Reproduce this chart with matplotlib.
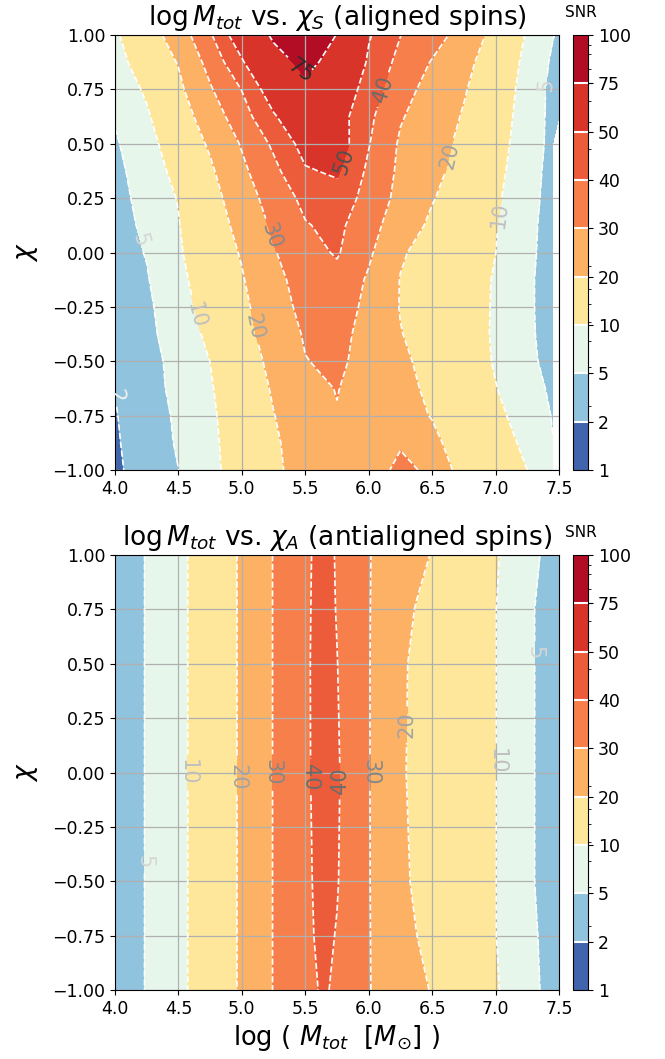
import numpy as np
import matplotlib
matplotlib.use("Agg")
import matplotlib.pyplot as plt
from matplotlib.colors import LogNorm

# ---------------- data ----------------
levels = [1, 2, 5, 10, 20, 30, 40, 50, 75, 100]
line_levels = [2, 5, 10, 20, 30, 40, 50, 75]
label_grays = ['#f0f0f0', '#d6d6d6', '#c0c0c0', '#a3a3a3', '#878787', '#6b6b6b', '#4f4f4f', '#2b2b2b']
cbar_minor = [3.0, 5.65, 8.35, 10.7, 14.3, 17.4, 22.3, 46.5, 55, 66, 82.5, 90, 94.7]
nan = np.nan

# aligned spins (chi_S): SNR sampled on (log M_tot, chi) grid, rows = chi
x_top = [4.0, 4.25, 4.5, 4.75, 5.0, 5.25, 5.5, 5.75, 6.0, 6.25, 6.5, 6.75, 7.0, 7.25, 7.45, 7.5]
chi_top = [-1.0, -0.875, -0.75, -0.625, -0.5, -0.375, -0.25, -0.125, 0.0,
           0.125, 0.25, 0.375, 0.5, 0.625, 0.75, 0.875, 1.0]
snr_top = [
    [1.5, 3.3, 4.98, 8.4, 13.0, 18.6, 23.0, 26.0, 25.0, 32.5, 28.0, 15.5, 12.8, 10.0, 6.5, nan],
    [1.7, 3.4, 5.3, 8.6, 13.4, 19.1, 23.0, 27.0, 25.0, 29.0, 21.5, 16.8, 12.7, 8.7, 5.1, nan],
    [1.85, 3.5, 5.5, 8.9, 14.0, 19.8, 24.2, 29.6, 25.0, 22.4, 19.7, 15.5, 11.3, 7.6, 4.8, nan],
    [2.05, 3.7, 5.9, 9.4, 14.9, 20.8, 27.4, 30.3, 26.5, 22.4, 18.4, 14.3, 10.2, 6.7, 4.3, nan],
    [2.2, 3.6, 6.3, 10.05, 15.8, 22.1, 29.7, 31.8, 26.6, 21.6, 17.3, 13.3, 9.5, 6.1, 3.5, nan],
    [2.6, 4.0, 7.0, 11.2, 17.0, 23.9, 30.9, 32.9, 26.8, 20.3, 16.5, 12.9, 9.3, 5.7, 3.5, nan],
    [2.9, 4.2, 7.7, 12.4, 18.0, 25.5, 32.8, 35.0, 27.6, 19.6, 16.2, 12.8, 9.4, 5.6, 3.5, nan],
    [3.1, 4.7, 8.4, 13.5, 19.3, 27.3, 33.9, 36.9, 28.8, 19.7, 16.4, 13.0, 9.5, 5.6, 3.5, nan],
    [3.3, 5.2, 9.2, 14.7, 20.7, 29.3, 36.2, 41.0, 31.5, 20.9, 16.8, 13.4, 10.05, 5.8, 3.6, nan],
    [3.4, 5.8, 9.7, 15.6, 22.6, 31.6, 39.4, 42.4, 33.6, 24.7, 18.4, 14.4, 10.3, 5.9, 3.7, nan],
    [3.5, 6.5, 10.3, 16.7, 25.0, 34.3, 42.4, 46.0, 36.4, 27.1, 20.5, 15.7, 10.9, 6.2, 3.8, nan],
    [3.9, 7.1, 11.7, 18.6, 28.0, 37.4, 49.0, 51.5, 38.1, 28.1, 22.3, 16.9, 11.7, 6.5, 3.9, nan],
    [4.5, 7.9, 13.5, 21.2, 30.8, 41.7, 54.0, 56.0, 40.5, 28.7, 23.4, 18.0, 12.4, 7.0, 4.0, nan],
    [5.4, 9.2, 15.7, 24.5, 35.7, 48.8, 59.9, 54.9, 42.1, 30.8, 24.9, 19.3, 13.2, 7.3, 4.0, 3.7],
    [6.1, 10.9, 18.0, 29.0, 40.3, 56.4, 71.0, 58.8, 45.3, 33.7, 26.5, 20.7, 14.1, 7.6, 4.0, 3.6],
    [7.7, 13.3, 20.5, 33.2, 48.6, 67.4, 80.0, 68.3, 48.3, 37.0, 29.4, 22.5, 15.3, 8.25, 4.4, 4.0],
    [9.0, 15.6, 24.5, 38.8, 57.8, 78.0, 90.0, 74.5, 51.0, 40.2, 33.9, 26.3, 16.9, 9.4, 5.2, 4.5],
]

# antialigned spins (chi_A)
x_bot = [4.0, 4.125, 4.25, 4.375, 4.5, 4.625, 4.75, 4.875, 5.0, 5.125, 5.25, 5.375,
         5.5, 5.625, 5.75, 5.875, 6.0, 6.125, 6.25, 6.375, 6.5, 6.625, 6.75, 6.875,
         7.0, 7.125, 7.25, 7.375, 7.5]
chi_bot = [-1.0, -0.75, -0.5, 0.0, 0.5, 0.75, 1.0]
snr_bot = [
    [3.2, 4.14, 5.14, 6.93, 8.71, 10.92, 14.21, 17.5, 21.1, 25.7, 30.3, 34.1,
     37.0, 40.7, 39.3, 34.7, 30.4, 27.5, 24.8, 22.0, 19.5, 17.3, 15.0, 12.9, 10.5, 8.5, 6.6, 4.6, 3.5],
    [3.2, 4.14, 5.14, 6.93, 8.71, 10.92, 14.21, 17.5, 21.1, 25.7, 30.3, 34.1,
     37.4, 42.2, 39.6, 35.0, 30.4, 26.9, 23.5, 20.1, 18.1, 16.0, 14.0, 12.0, 10.1, 8.0, 6.0, 4.5, 3.3],
    [3.2, 4.14, 5.14, 6.93, 8.71, 10.92, 14.21, 17.5, 21.1, 25.7, 30.3, 34.1,
     37.65, 43.0, 40.5, 35.4, 30.4, 26.0, 21.7, 18.9, 17.1, 15.4, 13.6, 11.8, 10.1, 7.8, 5.7, 4.2, 3.2],
    [3.2, 4.14, 5.14, 6.93, 8.71, 10.92, 14.21, 17.5, 21.1, 25.7, 30.3, 34.1,
     38.1, 43.8, 41.0, 35.6, 30.4, 25.6, 20.8, 18.6, 16.8, 15.1, 13.4, 11.7, 10.1, 7.8, 5.7, 4.2, 3.2],
    [3.2, 4.14, 5.14, 6.93, 8.71, 10.92, 14.21, 17.5, 21.1, 25.7, 30.3, 34.1,
     38.1, 44.1, 40.2, 35.2, 30.4, 25.7, 21.1, 18.7, 16.9, 15.2, 13.5, 11.7, 10.1, 7.8, 5.7, 4.2, 3.2],
    [3.2, 4.14, 5.14, 6.93, 8.71, 10.92, 14.21, 17.5, 21.1, 25.7, 30.3, 34.1,
     37.9, 43.9, 39.6, 35.0, 30.4, 26.6, 22.9, 19.6, 17.7, 15.8, 13.8, 11.9, 10.1, 7.8, 5.7, 4.2, 3.2],
    [3.2, 4.14, 5.14, 6.93, 8.71, 10.92, 14.21, 17.5, 21.1, 25.7, 30.3, 34.1,
     37.65, 43.6, 39.3, 34.8, 30.4, 27.6, 24.9, 22.2, 19.6, 17.4, 15.1, 12.8, 10.5, 8.5, 6.6, 4.6, 3.5],
]

titles = [r'$\log M_{tot}$ vs. $\chi_S$ (aligned spins)',
          r'$\log M_{tot}$ vs. $\chi_A$ (antialigned spins)']

# label anchor points (where clabel puts each inline label)
label_spots = [
    [(4.05, -0.6), (4.22, 0.06), (4.7, -0.28), (5.12, -0.34), (5.2, 0.07),
     (5.75, 0.43), (5.45, 0.83), (6.05, 0.76), (6.6, 0.45), (7.05, 0.17), (7.38, 0.77)],
    [(4.24, -0.41), (4.58, 0.0), (4.97, -0.02), (5.24, 0.0), (5.56, -0.02),
     (5.8, -0.04), (6.03, 0.0), (6.26, 0.22), (7.03, 0.05), (7.28, 0.55)],
]

# ---------------- styling ----------------
lev = np.array(levels, dtype=float)
layers = np.sqrt(lev[:-1] * lev[1:])
fill_colors = plt.get_cmap('RdYlBu_r')(LogNorm(vmin=1, vmax=100)(layers))

fig = plt.figure(figsize=(6.65, 10.59), dpi=100)
W, H = 665.0, 1059.0
ax_boxes = [(115, 35, 559, 470), (115, 555, 559, 990)]
cb_boxes = [(573, 35, 588, 470), (573, 555, 588, 990)]

panels = [(x_top, chi_top, snr_top), (x_bot, chi_bot, snr_bot)]

for i, (xs, cs_, zs) in enumerate(panels):
    l, t, r, b = ax_boxes[i]
    ax = fig.add_axes([l / W, 1 - b / H, (r - l) / W, (b - t) / H])
    X, Y = np.meshgrid(xs, cs_)
    Z = np.array(zs, dtype=float)
    cf = ax.contourf(X, Y, Z, levels=levels, colors=fill_colors)
    cl = ax.contour(X, Y, Z, levels=line_levels, colors='white',
                    linestyles='dashed', linewidths=1.2)
    ax.clabel(cl, fmt='%d', fontsize=15, colors=label_grays, inline=True,
              manual=label_spots[i])
    ax.set_xlim(4.0, 7.5)
    ax.set_ylim(-1.0, 1.0)
    ax.set_xticks(np.arange(4.0, 7.51, 0.5))
    ax.set_yticks(np.arange(-1.0, 1.01, 0.25))
    ax.grid(True, color='#b0b0b0', linewidth=0.9)
    ax.tick_params(labelsize=12.5)
    ax.set_ylabel(r'$\chi$', fontsize=19, labelpad=9)
    ax.set_title(titles[i], fontsize=19, pad=7)
    if i == 1:
        ax.set_xlabel(r'$\log\,(\ M_{tot}\ \ [M_{\odot}]\ )$', fontsize=18.5)

    l, t, r, b = cb_boxes[i]
    cax = fig.add_axes([l / W, 1 - b / H, (r - l) / W, (b - t) / H])
    cbar = fig.colorbar(cf, cax=cax)
    cbar.set_ticks(levels, labels=[str(v) for v in levels])
    cbar.ax.yaxis.set_ticks(cbar_minor, minor=True)
    for v in levels[1:-1]:
        cbar.ax.axhline(v, color='white', linewidth=1.5)
    cbar.ax.tick_params(labelsize=12.5)
    cbar.ax.set_title('SNR', fontsize=11, pad=13)

fig.savefig('out.png', dpi=100)
